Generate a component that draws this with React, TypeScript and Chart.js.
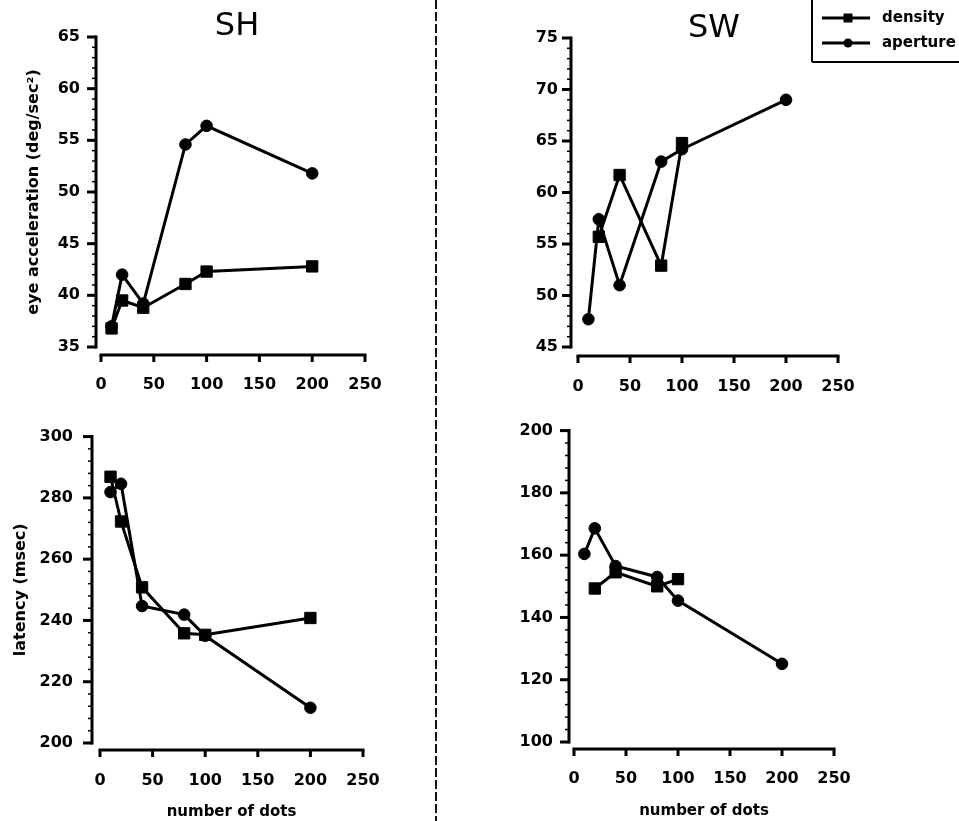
import React, { useEffect, useRef } from 'react';
import { Chart, registerables } from 'chart.js';

Chart.register(...registerables);

// ---------------- data ----------------
const dotCounts = [10, 20, 40, 80, 100, 200];
const dotCountsSWDensity = [20, 40, 80, 100];
const xTickValues = [0, 50, 100, 150, 200, 250];

// SH eye acceleration (deg/sec^2)
const shAccelDensity = [36.8, 39.5, 38.8, 41.1, 42.3, 42.8];
const shAccelAperture = [37.0, 42.0, 39.2, 54.6, 56.4, 51.8];
// SW eye acceleration
const swAccelDensity = [55.7, 61.7, 52.9, 64.8];
const swAccelAperture = [47.7, 57.4, 51.0, 63.0, 64.2, 69.0];
// SH latency (msec)
const shLatDensity = [286.9, 272.3, 250.8, 235.8, 235.3, 240.8];
const shLatAperture = [281.9, 284.6, 244.7, 241.9, 235.0, 211.5];
// SW latency
const swLatDensity = [149.3, 154.5, 150.0, 152.3];
const swLatAperture = [160.4, 168.6, 156.5, 153.0, 145.4, 125.1];

const seriesLabels = ['density', 'aperture'];
const panelTitles = ['SH', 'SW'];
const yTitleAccel = 'eye acceleration (deg/sec²)';
const yTitleLatency = 'latency (msec)';
const xTitleDots = 'number of dots';

// ---------------- styling ----------------
const FONT = '"DejaVu Sans", "Liberation Sans", Arial, sans-serif';

const toPts = (xs: number[], ys: number[]) => xs.map((x, i) => ({ x, y: ys[i] }));

const makeDatasets = (dx: number[], dy: number[], ax: number[], ay: number[]) => [
  {
    label: seriesLabels[0],
    data: toPts(dx, dy),
    borderColor: '#000',
    backgroundColor: '#000',
    borderWidth: 3,
    pointStyle: 'rect',
    pointRadius: 8,
    pointBorderWidth: 1,
    pointBackgroundColor: '#000',
    pointBorderColor: '#000',
    tension: 0,
  },
  {
    label: seriesLabels[1],
    data: toPts(ax, ay),
    borderColor: '#000',
    backgroundColor: '#000',
    borderWidth: 3,
    pointStyle: 'circle',
    pointRadius: 5.8,
    pointBorderWidth: 1,
    pointBackgroundColor: '#000',
    pointBorderColor: '#000',
    tension: 0,
  },
];

const line = (ctx: CanvasRenderingContext2D, x1: number, y1: number, x2: number, y2: number) => {
  ctx.beginPath();
  ctx.moveTo(x1, y1);
  ctx.lineTo(x2, y2);
  ctx.stroke();
};

const paperAxes = {
  id: 'paperAxes',
  afterDraw(chart: any, _args: any, opts: any) {
    const { ctx, chartArea, scales } = chart;
    const xs = scales.x;
    const ys = scales.y;
    ctx.save();
    ctx.strokeStyle = '#000';
    ctx.fillStyle = '#000';
    ctx.lineCap = 'butt';

    // y axis
    const ax = chartArea.left - opts.yGap;
    const yTop = ys.getPixelForValue(ys.max);
    const yBot = ys.getPixelForValue(ys.min);
    ctx.lineWidth = 3;
    line(ctx, ax, yTop - 1.5, ax, yBot + 1.5);
    ys.ticks.forEach((t: any) => {
      const p = ys.getPixelForValue(t.value);
      line(ctx, ax - 9, p, ax, p);
    });
    ctx.lineWidth = 1.5;
    const n = Math.round((ys.max - ys.min) / opts.yMinor);
    for (let i = 0; i <= n; i++) {
      const p = ys.getPixelForValue(ys.min + i * opts.yMinor);
      line(ctx, ax - 4, p, ax, p);
    }

    // x axis
    const ay = chartArea.bottom + opts.xGap;
    ctx.lineWidth = 3;
    line(ctx, xs.getPixelForValue(xs.min) - 1.5, ay, xs.getPixelForValue(xs.max) + 1.5, ay);
    xs.ticks.forEach((t: any) => {
      const p = xs.getPixelForValue(t.value);
      line(ctx, p, ay, p, ay + 7);
    });

    // panel title
    ctx.font = `32px ${FONT}`;
    ctx.textAlign = 'center';
    ctx.textBaseline = 'middle';
    ctx.fillText(opts.title, opts.titleX, opts.titleY);

    // legend box
    if (opts.legend) {
      const L = opts.legend;
      ctx.lineWidth = 2;
      line(ctx, L.boxX, 0, L.boxX, L.boxBottom);
      line(ctx, L.boxX, L.boxBottom, chart.width, L.boxBottom);
      chart.data.datasets.forEach((ds: any, i: number) => {
        const y = L.y0 + i * L.dy;
        ctx.lineWidth = 3;
        line(ctx, L.lineX1, y, L.lineX2, y);
        const mx = (L.lineX1 + L.lineX2) / 2 + 2;
        ctx.beginPath();
        if (ds.pointStyle === 'rect') {
          ctx.rect(mx - 4.5, y - 4.5, 9, 9);
        } else {
          ctx.arc(mx, y, 4.5, 0, Math.PI * 2);
        }
        ctx.fill();
        ctx.font = `bold 15px ${FONT}`;
        ctx.textAlign = 'left';
        ctx.textBaseline = 'middle';
        ctx.fillText(ds.label, L.textX, y);
      });
    }
    ctx.restore();
  },
};

type PanelCfg = {
  left: number;
  top: number;
  w: number;
  h: number;
  area: { l: number; t: number; r: number; b: number };
  yMin: number;
  yMax: number;
  yStep: number;
  yMinor: number;
  yLabelPad: number;
  xLabelPad: number;
  yTitle?: string;
  yTitlePad?: number;
  xTitle?: string;
  xTitlePad?: number;
  yGap: number;
  xGap: number;
  title: string;
  titleX: number;
  titleY: number;
  legend?: any;
  datasets: any[];
};

const panels: PanelCfg[] = [
  {
    left: 0, top: 0, w: 480, h: 400,
    area: { l: 101, t: 37, r: 365, b: 347 },
    yMin: 35, yMax: 65, yStep: 5, yMinor: 1,
    yLabelPad: 21, xLabelPad: 28,
    yTitle: yTitleAccel, yTitlePad: 24,
    yGap: 5, xGap: 8,
    title: panelTitles[0], titleX: 237, titleY: 27,
    datasets: makeDatasets(dotCounts, shAccelDensity, dotCounts, shAccelAperture),
  },
  {
    left: 480, top: 0, w: 479, h: 400,
    area: { l: 98, t: 38, r: 358, b: 347 },
    yMin: 45, yMax: 75, yStep: 5, yMinor: 1,
    yLabelPad: 20, xLabelPad: 30,
    yGap: 7, xGap: 9,
    title: panelTitles[1], titleX: 234, titleY: 29,
    legend: { boxX: 332, boxBottom: 62, y0: 18, dy: 25, lineX1: 342, lineX2: 390, textX: 402 },
    datasets: makeDatasets(dotCountsSWDensity, swAccelDensity, dotCounts, swAccelAperture),
  },
  {
    left: 0, top: 400, w: 480, h: 421,
    area: { l: 100, t: 32, r: 363, b: 343 },
    yMin: 200, yMax: 300, yStep: 20, yMinor: 4,
    yLabelPad: 27, xLabelPad: 28,
    yTitle: yTitleLatency, yTitlePad: 11,
    xTitle: xTitleDots, xTitlePad: 0,
    yGap: 8, xGap: 7,
    title: '', titleX: 0, titleY: 0,
    datasets: makeDatasets(dotCounts, shLatDensity, dotCounts, shLatAperture),
  },
  {
    left: 480, top: 400, w: 479, h: 421,
    area: { l: 94, t: 28, r: 354, b: 342 },
    yMin: 100, yMax: 200, yStep: 20, yMinor: 4,
    yLabelPad: 21, xLabelPad: 27,
    xTitle: xTitleDots, xTitlePad: 1,
    yGap: 5, xGap: 7,
    title: '', titleX: 0, titleY: 0,
    datasets: makeDatasets(dotCountsSWDensity, swLatDensity, dotCounts, swLatAperture),
  },
];

function Panel({ cfg }: { cfg: PanelCfg }) {
  const ref = useRef<HTMLCanvasElement>(null);
  useEffect(() => {
    if (!ref.current) return;
    const tickFont = { family: FONT, size: 16, weight: 'bold' as const };
    const titleFont = { family: FONT, size: 16, weight: 'bold' as const };
    const chart = new Chart(ref.current, {
      type: 'line',
      data: { datasets: cfg.datasets },
      plugins: [paperAxes],
      options: {
        animation: false,
        responsive: false,
        maintainAspectRatio: false,
        devicePixelRatio: 1,
        layout: {
          padding: { left: 0, top: cfg.area.t, right: cfg.w - cfg.area.r, bottom: 0 },
        },
        plugins: {
          legend: { display: false },
          tooltip: { enabled: false },
          title: { display: false },
          paperAxes: {
            yGap: cfg.yGap,
            xGap: cfg.xGap,
            yMinor: cfg.yMinor,
            title: cfg.title,
            titleX: cfg.titleX,
            titleY: cfg.titleY,
            legend: cfg.legend,
          },
        } as any,
        scales: {
          x: {
            type: 'linear',
            min: 0,
            max: 250,
            grid: { display: false, drawTicks: false },
            border: { display: false },
            afterBuildTicks: (s: any) => {
              s.ticks = xTickValues.map((v) => ({ value: v }));
            },
            ticks: {
              color: '#000',
              font: tickFont,
              padding: cfg.xLabelPad,
              maxRotation: 0,
              autoSkip: false,
            },
            title: cfg.xTitle
              ? {
                  display: true,
                  text: cfg.xTitle,
                  color: '#000',
                  font: { family: FONT, size: 15, weight: 'bold' },
                  padding: { top: 0, bottom: cfg.xTitlePad },
                }
              : { display: false },
            afterFit: (s: any) => {
              s.height = cfg.h - cfg.area.b;
            },
          },
          y: {
            type: 'linear',
            min: cfg.yMin,
            max: cfg.yMax,
            grid: { display: false, drawTicks: false },
            border: { display: false },
            ticks: {
              color: '#000',
              font: tickFont,
              padding: cfg.yLabelPad,
              stepSize: cfg.yStep,
            },
            title: cfg.yTitle
              ? {
                  display: true,
                  text: cfg.yTitle,
                  color: '#000',
                  font: titleFont,
                  padding: { top: cfg.yTitlePad, bottom: 0 },
                }
              : { display: false },
            afterFit: (s: any) => {
              s.width = cfg.area.l;
            },
          },
        } as any,
      },
    });
    return () => chart.destroy();
  }, [cfg]);
  return (
    <canvas
      ref={ref}
      width={cfg.w}
      height={cfg.h}
      style={{ position: 'absolute', left: cfg.left, top: cfg.top, width: cfg.w, height: cfg.h }}
    />
  );
}

export default function App() {
  return (
    <div style={{ position: 'absolute', left: 0, top: 0, width: 959, height: 821, background: '#fff', overflow: 'hidden' }}>
      <div
        style={{
          position: 'absolute',
          left: 435,
          top: 0,
          width: 2,
          height: 821,
          backgroundImage: 'repeating-linear-gradient(to bottom, #111 0px, #111 9px, transparent 9px, transparent 12px)',
        }}
      />
      {panels.map((p, i) => (
        <Panel key={i} cfg={p} />
      ))}
    </div>
  );
}
